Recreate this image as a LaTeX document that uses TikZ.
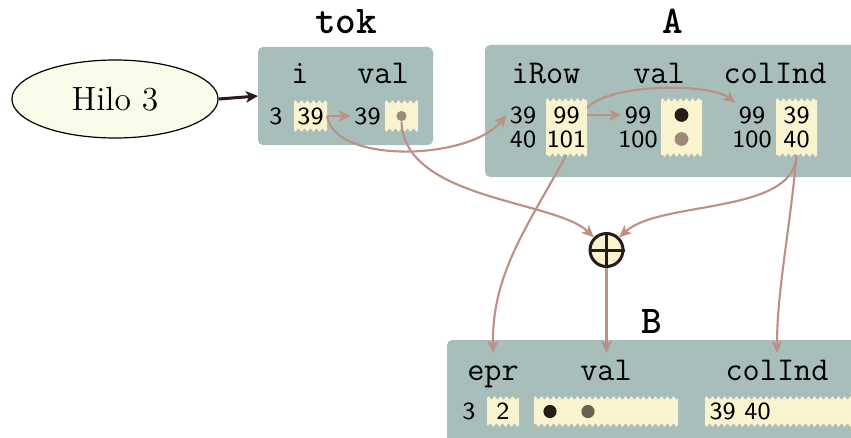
\documentclass[tikz,border=0pt]{standalone}
\usepackage{fontspec}
\usetikzlibrary{arrows.meta,decorations.pathmorphing,shapes.geometric,calc}

\definecolor{boxc}{HTML}{A7BEBA}
\definecolor{cream}{HTML}{F9F4CF}
\definecolor{hiloc}{HTML}{FBFBEA}
\definecolor{flowc}{HTML}{BC8F87}
\definecolor{darkc}{HTML}{2B1A1A}
\definecolor{greyc}{HTML}{9B8B76}
\definecolor{browngc}{HTML}{6E5F52}

\tikzset{
  panel/.style={fill=boxc, rounded corners=1.7pt, inner sep=0pt, outer sep=0pt},
  cellframe/.style={inner sep=0pt, outer sep=0pt, rectangle},
  zzdec/.style={decoration={zigzag, segment length=2pt, amplitude=0.6pt}},
  title/.style={font=\fontsize{13.1}{15}\selectfont\ttfamily\bfseries, anchor=base, inner sep=0pt},
  head/.style={font=\fontsize{11.1}{13}\selectfont\ttfamily, anchor=base, inner sep=0pt},
  num/.style={font=\fontsize{8.2}{10}\selectfont\sffamily, inner sep=1pt},
  dot/.style={circle, inner sep=0pt, minimum size=#1},
  flow/.style={draw=flowc, line width=0.7pt, -{Stealth[length=4pt, width=3.6pt, inset=1pt]}},
  feed/.style={draw=darkc, line width=1pt, -{Stealth[length=4pt, width=3.8pt, inset=1pt]}},
}

% a cream cell with torn (zigzag) top and bottom edges
\newcommand\zcell[4]{%
  \node[cellframe, minimum width=#3, minimum height=#4] (#1) at #2 {};
  \fill[cream] (#1.north west) decorate[zzdec]{-- (#1.north east)}
    -- (#1.south east) decorate[zzdec]{-- (#1.south west)} -- cycle;
}

\begin{document}
\begin{tikzpicture}[x=0.33333pt, y=-0.33333pt]
\useasboundingbox (0,0) rectangle (851,437);
\fill[white] (0,0) rectangle (851,437);

% thread
\node[ellipse, draw=black, line width=0.4pt, fill=hiloc, minimum width=68.7pt,
      minimum height=26pt, inner sep=0pt,
      font=\fontsize{11.2}{13}\selectfont] (hilo) at (115,99) {Hilo 3};

% ---------- tok ----------
\node[panel, minimum width=58.33pt, minimum height=32.67pt] (tok) at (345.5,96) {};
\node[title] (tokT) at (346,33) {tok};
\node[head] (tokHi) at (300,83) {i};
\node[head] (tokHv) at (383,83) {val};
\node[num] (t3) at (276,116) {3};
\zcell{tokI}{(310.5,116)}{11pt}{9.33pt}
\node[num] (t39a) at (tokI) {39};
\node[num] (t39) at (367.5,116) {39};
\zcell{tokV}{(401.5,116)}{11pt}{9.33pt}
\node[dot=3.4pt, fill=greyc] (tokdot) at (tokV) {};

% ---------- A ----------
\node[panel, minimum width=128.33pt, minimum height=44pt] (A) at (677.5,111) {};
\node[title] (AT) at (673,33) {A};
\node[head] (AHr) at (546,83) {iRow};
\node[head] (AHv) at (659,83) {val};
\node[head] (AHc) at (775,83) {colInd};

\node[num] (a39) at (523,115) {39};
\node[num] (a40) at (523,139) {40};
\zcell{Arow}{(566.5,127.5)}{13.67pt}{18.33pt}
\node[num] (r99) at (566.5,115) {99};
\node[num] (r101) at (566.5,139) {101};

\node[num] (v99) at (638,115) {99};
\node[num] (v100) at (638,139) {100};
\zcell{Aval}{(681.5,127.5)}{13.67pt}{18.33pt}
\node[dot=4.6pt, fill=darkc] (vd1) at (681.5,115) {};
\node[dot=4.6pt, fill=greyc] (vd2) at (681.5,139) {};

\node[num] (c99) at (752,115) {99};
\node[num] (c100) at (752,139) {100};
\zcell{Acol}{(796.5,127.5)}{13.67pt}{18.33pt}
\node[num] (c39) at (796.5,115) {39};
\node[num] (c40) at (796.5,139) {40};

% ---------- B ----------
\node[panel, minimum width=141pt, minimum height=40pt] (B) at (658.5,400) {};
\node[title] (BT) at (652,333) {B};
\node[head] (BHe) at (493,380) {epr};
\node[head] (BHv) at (606,380) {val};
\node[head] (BHc) at (777,380) {colInd};
\node[num] (b3) at (469,411.5) {3};
\zcell{Bepr}{(503,411.5)}{10.67pt}{9pt}
\node[num] (b2) at (Bepr) {2};
\zcell{Bval}{(606,411.5)}{48pt}{9pt}
\node[dot=4.4pt, fill=darkc] (bd1) at (550,411.5) {};
\node[dot=4.4pt, fill=browngc] (bd2) at (588,411.5) {};
\zcell{Bcol}{(787.5,411.5)}{55pt}{9pt}
\node[num, anchor=west] (bcv) at (706,411.5) {39 40};

\coordinate (inEpr) at (493,353);
\coordinate (inVal) at (606.5,353);
\coordinate (inCol) at (777,353);

% ---------- sum ----------
\node[circle, draw=darkc, fill=cream, line width=1pt, minimum size=11pt, inner sep=0pt] (plus) at (606.5,250) {};
\draw[darkc, line width=1pt] (plus.north) -- (plus.south) (plus.west) -- (plus.east);

% ---------- connectors ----------
\draw[feed] (hilo.east) -- (tok.west);
\draw[flow] (tokI.east) -- (t39.west);
\draw[flow] (tokI.east) .. controls (335,165) and (470,160) .. (a39.west);
\draw[flow] (tokdot.south) .. controls (404,200) and (555,200) .. (plus.135);
\draw[flow] (Arow.east |- r99) -- (v99.west);
\draw[flow] ($(Arow.east |- r99)+(0,-7)$) .. controls (610,83) and (710,83) .. (c99.north west);
\draw[flow] (Arow.south) .. controls (525,230) and (492,275) .. (inEpr);
\draw[flow] (Acol.south) .. controls (795,215) and (660,200) .. (plus.45);
\draw[flow] (Acol.south) .. controls (790,230) and (777,290) .. (inCol);
\draw[flow] (plus.south) -- (inVal);
\end{tikzpicture}
\end{document}
